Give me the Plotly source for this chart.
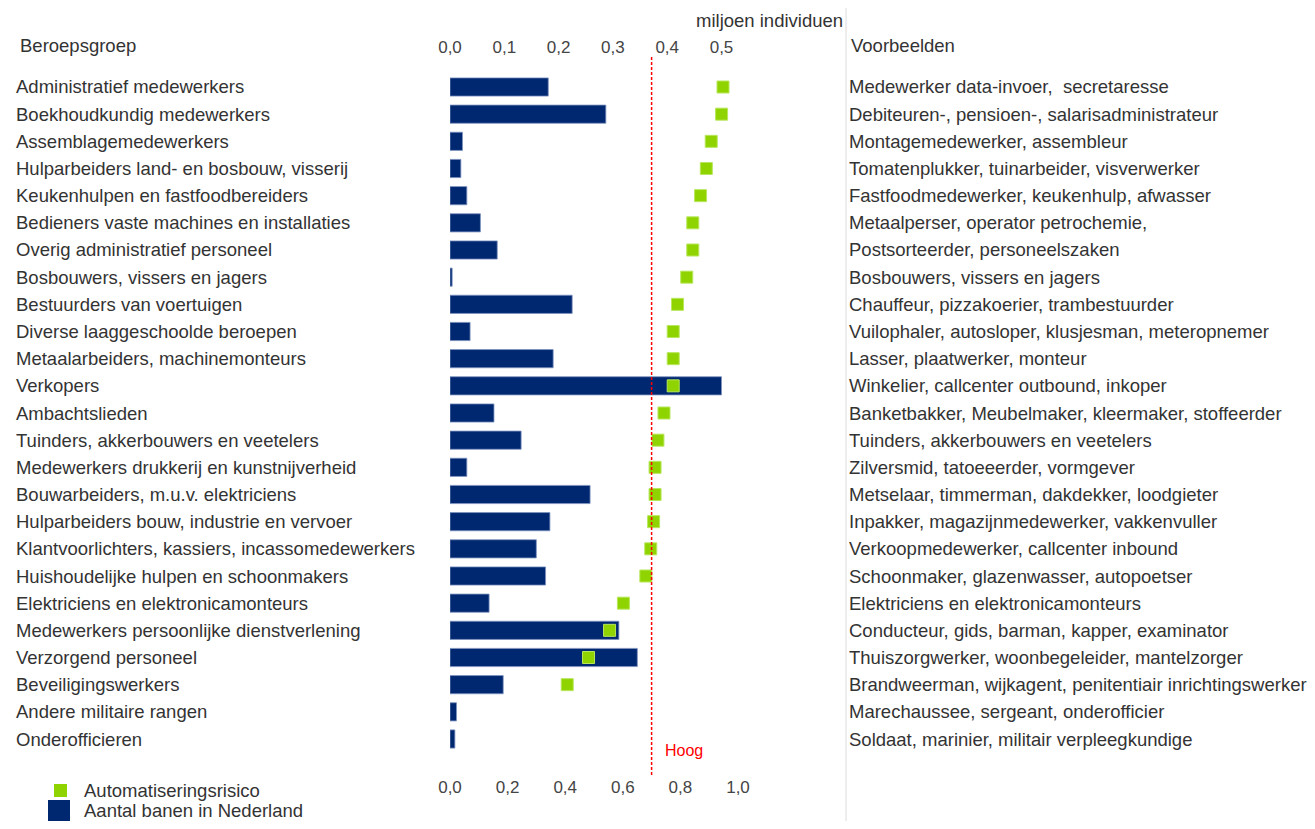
import plotly.graph_objects as go

categories = [
    "Administratief medewerkers",
    "Boekhoudkundig medewerkers",
    "Assemblagemedewerkers",
    "Hulparbeiders land- en bosbouw, visserij",
    "Keukenhulpen en fastfoodbereiders",
    "Bedieners vaste machines en installaties",
    "Overig administratief personeel",
    "Bosbouwers, vissers en jagers",
    "Bestuurders van voertuigen",
    "Diverse laaggeschoolde beroepen",
    "Metaalarbeiders, machinemonteurs",
    "Verkopers",
    "Ambachtslieden",
    "Tuinders, akkerbouwers en veetelers",
    "Medewerkers drukkerij en kunstnijverheid",
    "Bouwarbeiders, m.u.v. elektriciens",
    "Hulparbeiders bouw, industrie en vervoer",
    "Klantvoorlichters, kassiers, incassomedewerkers",
    "Huishoudelijke hulpen en schoonmakers",
    "Elektriciens en elektronicamonteurs",
    "Medewerkers persoonlijke dienstverlening",
    "Verzorgend personeel",
    "Beveiligingswerkers",
    "Andere militaire rangen",
    "Onderofficieren",
]

# Aantal banen in Nederland (miljoen individuen)
banen = [0.181, 0.287, 0.023, 0.020, 0.031, 0.056, 0.087, 0.004, 0.225,
         0.037, 0.190, 0.500, 0.081, 0.131, 0.031, 0.258, 0.184, 0.159,
         0.176, 0.072, 0.311, 0.345, 0.098, 0.012, 0.009]

# Automatiseringsrisico (kans 0-1)
risico = [0.948, 0.943, 0.907, 0.890, 0.870, 0.843, 0.843, 0.822, 0.790,
          0.775, 0.775, 0.775, 0.743, 0.722, 0.712, 0.712, 0.707, 0.697,
          0.680, 0.602, 0.554, 0.481, 0.407, None, None]

voorbeelden = [
    "Medewerker data-invoer,  secretaresse",
    "Debiteuren-, pensioen-, salarisadministrateur",
    "Montagemedewerker, assembleur",
    "Tomatenplukker, tuinarbeider, visverwerker",
    "Fastfoodmedewerker, keukenhulp, afwasser",
    "Metaalperser, operator petrochemie,",
    "Postsorteerder, personeelszaken",
    "Bosbouwers, vissers en jagers",
    "Chauffeur, pizzakoerier, trambestuurder",
    "Vuilophaler, autosloper, klusjesman, meteropnemer",
    "Lasser, plaatwerker, monteur",
    "Winkelier, callcenter outbound, inkoper",
    "Banketbakker, Meubelmaker, kleermaker, stoffeerder",
    "Tuinders, akkerbouwers en veetelers",
    "Zilversmid, tatoeeerder, vormgever",
    "Metselaar, timmerman, dakdekker, loodgieter",
    "Inpakker, magazijnmedewerker, vakkenvuller",
    "Verkoopmedewerker, callcenter inbound",
    "Schoonmaker, glazenwasser, autopoetser",
    "Elektriciens en elektronicamonteurs",
    "Conducteur, gids, barman, kapper, examinator",
    "Thuiszorgwerker, woonbegeleider, mantelzorger",
    "Brandweerman, wijkagent, penitentiair inrichtingswerker",
    "Marechaussee, sergeant, onderofficier",
    "Soldaat, marinier, militair verpleegkundige",
]

top_ticks = [0.0, 0.1, 0.2, 0.3, 0.4, 0.5]
bottom_ticks = [0.0, 0.2, 0.4, 0.6, 0.8, 1.0]
hoog_grens = 0.7

# page body has an 8px margin: figure fills the rest of the 1315x829 window
OFF = 8
W, H = 1315 - 2 * OFF, 829 - 2 * OFF
FONT = "Liberation Sans, Arial, sans-serif"
TXT = "#333333"
NAVY = "#002870"
GREEN = "#8fd400"


def px(x):
    return (x - OFF) / W


def py(y):
    return 1 - (y - OFF) / H


fig = go.Figure()

fig.add_trace(go.Bar(
    y=categories, x=banen, orientation="h",
    xaxis="x", yaxis="y",
    width=0.67,
    marker=dict(color=NAVY, line=dict(color="#7f93c0", width=0.8)),
    name="Aantal banen in Nederland",
    showlegend=False,
))

fig.add_trace(go.Scatter(
    y=categories, x=risico, mode="markers",
    xaxis="x2", yaxis="y",
    marker=dict(symbol="square", size=12, color=GREEN,
                line=dict(color="#b8e65c", width=1)),
    name="Automatiseringsrisico",
    showlegend=False,
))

s = (739 - 87) / 24.0
y_top = -(87 - 57) / s
y_bot = 24 + (775 - 739) / s

tickfont = dict(family=FONT, size=17, color="#444444")

fig.update_layout(
    width=W, height=H,
    autosize=False,
    margin=dict(l=0, r=0, t=0, b=0, pad=0, autoexpand=False),
    paper_bgcolor="white",
    plot_bgcolor="rgba(0,0,0,0)",
    separators=", ",
    showlegend=False,
    bargap=0.33,
    xaxis=dict(
        domain=[px(450), px(738)],
        range=[0, 288 / 543.0],
        side="top",
        anchor="y",
        automargin=False,
        tickvals=top_ticks,
        tickformat=".1f",
        showgrid=False, zeroline=False, showline=False,
        ticks="", tickfont=tickfont,
    ),
    xaxis2=dict(
        overlaying="x",
        range=[0, 1],
        side="bottom",
        anchor="y",
        automargin=False,
        tickvals=bottom_ticks,
        tickformat=".1f",
        showgrid=False, zeroline=False, showline=False,
        ticks="", tickfont=tickfont,
    ),
    yaxis=dict(
        domain=[py(775), py(57)],
        type="category",
        categoryorder="array",
        categoryarray=categories,
        range=[y_bot, y_top],
        automargin=False,
        showticklabels=False,
        showgrid=False, zeroline=False, showline=False,
    ),
)

shapes = [
    # high-risk threshold line
    dict(type="line", xref="x2", yref="paper", x0=hoog_grens, x1=hoog_grens,
         y0=py(775), y1=py(57),
         line=dict(color="#ff0000", width=1.5, dash="3px,2px")),
    # separator before examples column
    dict(type="line", xref="paper", yref="paper", x0=px(846), x1=px(846),
         y0=py(829), y1=py(8), line=dict(color="#dcdcdc", width=1)),
    # legend swatches
    dict(type="rect", xref="paper", yref="paper",
         x0=px(54), x1=px(67), y0=py(797), y1=py(784),
         fillcolor=GREEN, line=dict(width=0)),
    dict(type="rect", xref="paper", yref="paper",
         x0=px(48), x1=px(70), y0=py(821), y1=py(800),
         fillcolor=NAVY, line=dict(width=0)),
]

annotations = []
lblfont = dict(family=FONT, size=18.5, color=TXT)
for c, v in zip(categories, voorbeelden):
    annotations.append(dict(x=px(14), xref="paper", y=c, yref="y",
                            text=c, showarrow=False, xanchor="left",
                            yanchor="middle", font=lblfont))
    annotations.append(dict(x=px(847), xref="paper", y=c, yref="y",
                            text=v, showarrow=False, xanchor="left",
                            yanchor="middle", font=lblfont))

annotations += [
    dict(x=px(18), y=py(45), xref="paper", yref="paper", text="Beroepsgroep",
         showarrow=False, xanchor="left", yanchor="middle", font=lblfont),
    dict(x=px(849), y=py(45), xref="paper", yref="paper", text="Voorbeelden",
         showarrow=False, xanchor="left", yanchor="middle", font=lblfont),
    dict(x=px(845), y=py(20), xref="paper", yref="paper", text="miljoen individuen",
         showarrow=False, xanchor="right", yanchor="middle", font=lblfont),
    dict(x=hoog_grens, xref="x2", xshift=11, y=py(750), yref="paper", text="Hoog",
         showarrow=False, xanchor="left", yanchor="middle",
         font=dict(family=FONT, size=16, color="#ff0000")),
    dict(x=px(82), y=py(790), xref="paper", yref="paper", text="Automatiseringsrisico",
         showarrow=False, xanchor="left", yanchor="middle", font=lblfont),
    dict(x=px(82), y=py(810), xref="paper", yref="paper", text="Aantal banen in Nederland",
         showarrow=False, xanchor="left", yanchor="middle", font=lblfont),
]

fig.update_layout(shapes=shapes, annotations=annotations)

fig.write_html("out.html")
